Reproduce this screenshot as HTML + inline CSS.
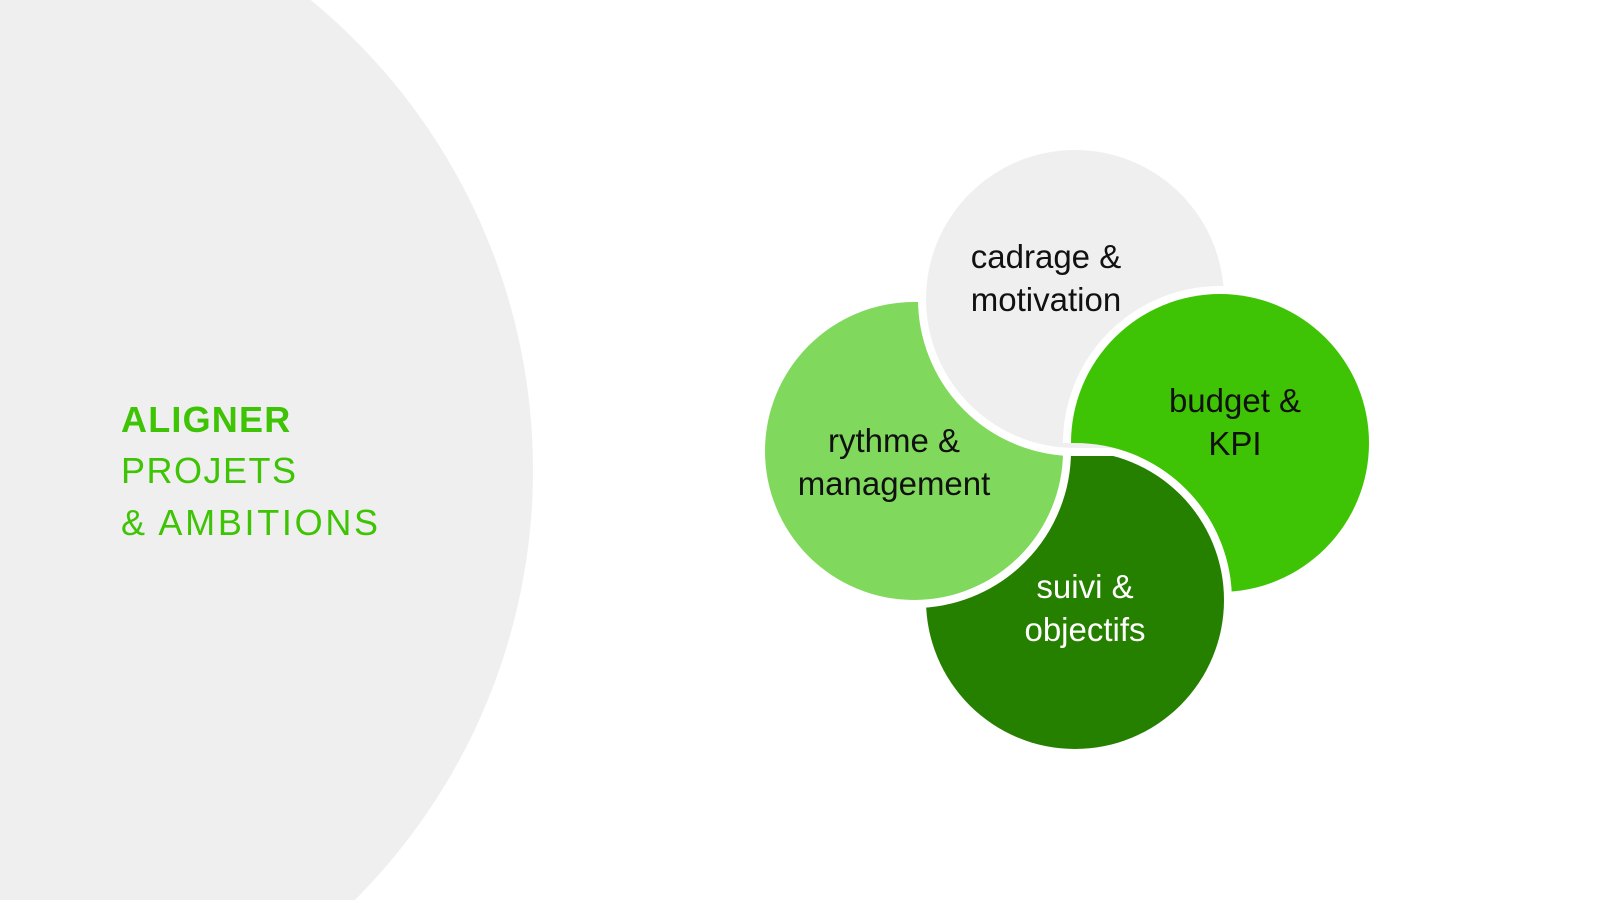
<!DOCTYPE html>
<html><head><meta charset="utf-8"><style>
html,body{margin:0;padding:0;background:#fff;width:1600px;height:900px;overflow:hidden}
svg{display:block}
</style></head><body>
<svg width="1600" height="900" viewBox="0 0 1600 900" xmlns="http://www.w3.org/2000/svg">
<defs>
<mask id="m" maskUnits="userSpaceOnUse" x="0" y="0" width="1600" height="900">
<rect x="1040" y="270" width="360" height="340" fill="#fff"/>
<path d="M926,451 L1075,451 A149,149 0 0 1 1224,600 A149,149 0 0 1 1075,749 A149,149 0 0 1 926,600 Z" fill="#000" stroke="#000" stroke-width="16"/>
</mask>
</defs>
<rect width="1600" height="900" fill="#fff"/>
<circle cx="-75" cy="470" r="608" fill="#efefef"/>
<g font-family="Liberation Sans, sans-serif" font-size="36" fill="#3ec404">
<text x="121" y="432" font-weight="bold" letter-spacing="1.2">ALIGNER</text>
<text x="121" y="483" letter-spacing="1.5">PROJETS</text>
<text x="121" y="535" letter-spacing="2.7">&amp; AMBITIONS</text>
</g>
<g stroke="#fff" stroke-width="16" paint-order="stroke" stroke-linejoin="round">
<path d="M1071,443 A149,149 0 0 1 1220,294 A149,149 0 0 1 1369,443 A149,149 0 0 1 1220,592 L1071,592 Z" fill="#3ec404"/>
<path d="M926,451 L1075,451 A149,149 0 0 1 1224,600 A149,149 0 0 1 1075,749 A149,149 0 0 1 926,600 Z" fill="#268000"/>
<path d="M765,451 A149,149 0 0 1 914,302 L1063,302 L1063,451 A149,149 0 0 1 914,600 A149,149 0 0 1 765,451 Z" fill="#80d95c"/>
<path d="M1075,150 A149,149 0 0 1 1224,299 L1224,448 L1075,448 A149,149 0 0 1 926,299 A149,149 0 0 1 1075,150 Z" fill="#efefef"/>
<path mask="url(#m)" d="M1071,443 A149,149 0 0 1 1220,294 A149,149 0 0 1 1369,443 A149,149 0 0 1 1220,592 L1071,592 Z" fill="#3ec404"/>
</g>
<g font-family="Liberation Sans, sans-serif" font-size="33" text-anchor="middle" fill="#111">
<text x="1046" y="268">cadrage &amp;</text>
<text x="1046" y="311">motivation</text>
<text x="894" y="452">rythme &amp;</text>
<text x="894" y="495">management</text>
<text x="1235" y="412">budget &amp;</text>
<text x="1235" y="455">KPI</text>
<text x="1085" y="598" fill="#fff">suivi &amp;</text>
<text x="1085" y="641" fill="#fff">objectifs</text>
</g>
</svg>
</body></html>
